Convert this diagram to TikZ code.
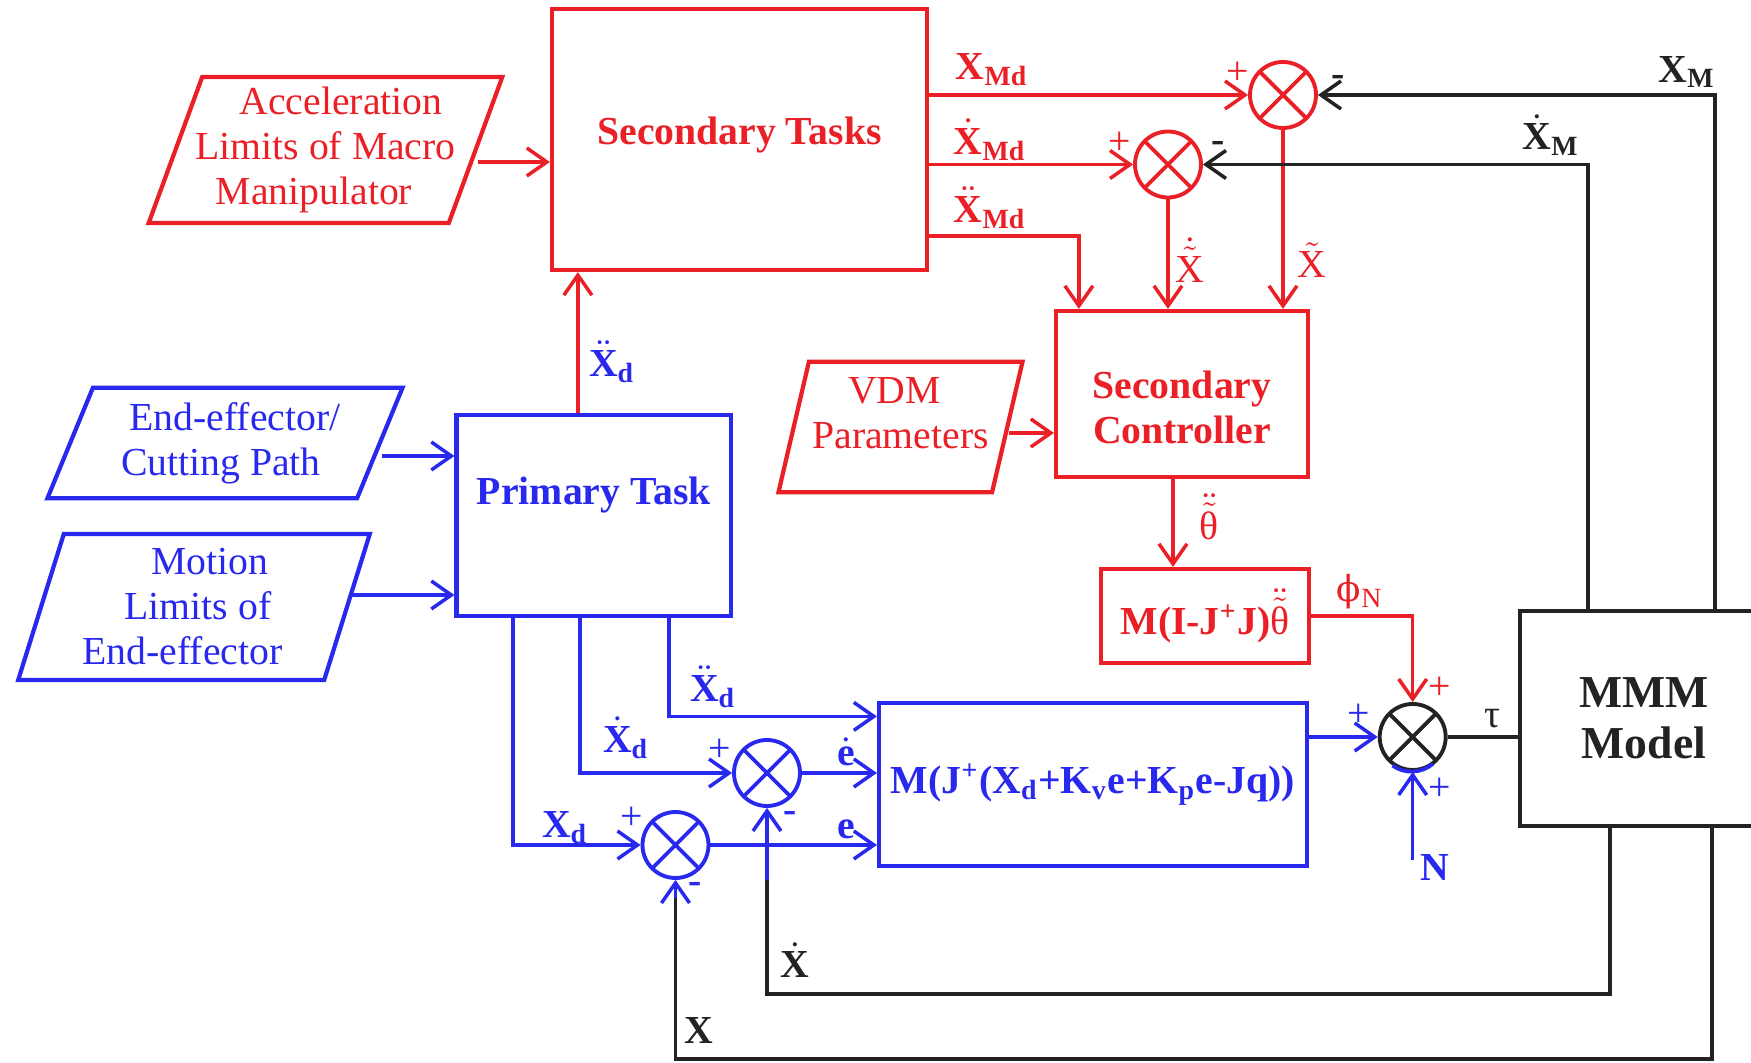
\documentclass[tikz,border=0pt]{standalone}
\usepackage{amsmath}
\usepackage{fontspec}
\setmainfont{Liberation Serif}
\newfontfamily\grkfont[Scale=0.9]{DejaVu Serif}
\usetikzlibrary{arrows.meta, shapes.geometric}

\definecolor{sred}{RGB}{234,32,38}
\definecolor{sblue}{RGB}{40,40,238}
\definecolor{sblack}{RGB}{35,35,35}

\begin{document}
\begin{tikzpicture}[
    font=\fontsize{11.3}{12.8}\selectfont,
    box/.style={rectangle, draw, line width=1.2pt, inner sep=0pt, font=\fontsize{11.3}{12.8}\selectfont\bfseries},
    para/.style={trapezium, trapezium stretches=true, draw, line width=1.2pt, inner sep=0pt, align=center},
    sumj/.style={circle, draw, line width=1.1pt, minimum size=0.66cm, inner sep=0pt,
        path picture={\draw[line width=1.1pt] (path picture bounding box.north west) -- (path picture bounding box.south east)
            (path picture bounding box.north east) -- (path picture bounding box.south west);}},
    arr/.style={-{Straight Barb[length=2mm, width=2.8mm]}, line width=1pt},
    wire/.style={line width=1pt},
    sig/.style={inner sep=0pt},
    sgn/.style={inner sep=0pt}
]
    \useasboundingbox (0,0) rectangle (17.51,-10.63);
    \clip (0,0) rectangle (17.51,-10.63);

    % Secondary task branch
    \node[box, sred, minimum width=3.75cm, minimum height=2.61cm, text height=0.27cm, text depth=0.17cm] (st) at (7.395,-1.395) {Secondary Tasks};
    \node[para, sred, inner xsep=-1mm, trapezium left angle=67.5, trapezium right angle=112.5, minimum width=3.57cm, minimum height=1.46cm] (accel) at (3.255,-1.50)
        {\hspace*{3.1mm}Acceleration\\Limits of Macro\\Manipulator\hspace*{2.3mm}};
    \node[sumj, sred] (sum1) at (12.83,-0.95) {};
    \node[sumj, sred] (sum2) at (11.68,-1.645) {};
    \node[box, sred, align=center, minimum width=2.52cm, minimum height=1.66cm] (sc) at (11.82,-3.94) {\mbox{}\\[0.9mm]Secondary\\Controller};
    \node[para, sred, trapezium left angle=73.5, trapezium right angle=106.5, minimum width=2.45cm, minimum height=1.305cm] (vdm) at (9.005,-4.27)
        {VDM\hspace*{1.2mm}\\Parameters\\[-1.7mm]\mbox{}};
    \node[box, sred, minimum width=2.08cm, minimum height=0.94cm] (mb) at (12.05,-6.16) {M(I-J\textsuperscript{+}J)$\ddot{\tilde{\text{\mdseries θ}}}$};

    % Plant
    \node[sumj, sblack] (sum3) at (14.127,-7.37) {};
    \node[box, sblack, align=center, font=\fontsize{13}{14.5}\selectfont\bfseries, minimum width=2.48cm, minimum height=2.15cm] (mmm) at (16.44,-7.185) {MMM\\Model};

    % Primary task branch
    \node[box, sblue, minimum width=2.745cm, minimum height=2.01cm, text height=0.27cm, text depth=0.49cm] (pt) at (5.9375,-5.155) {Primary Task};
    \node[para, sblue, trapezium left angle=64, trapezium right angle=116, minimum width=3.56cm, minimum height=1.105cm] (ee) at (2.25,-4.43)
        {\hspace*{2mm}End-effector/\\Cutting Path\hspace*{0.8mm}};
    \node[para, sblue, trapezium left angle=71.5, trapezium right angle=108.5, minimum width=3.54cm, minimum height=1.46cm] (ml) at (1.94,-6.07)
        {\hspace*{3.1mm}Motion\\\hspace*{0.8mm}Limits of\\End-effector\hspace*{2.3mm}};
    \node[box, sblue, minimum width=4.28cm, minimum height=1.63cm] (cb) at (10.93,-7.845)
        {M(J\textsuperscript{+}(X\textsubscript{d}+K\textsubscript{v}e+K\textsubscript{p}e-Jq))};
    \node[sumj, sblue] (sum4) at (7.67,-7.73) {};
    \node[sumj, sblue] (sum5) at (6.755,-8.45) {};
    \draw[sblue, line width=1.1pt] (sum3.-125) arc[start angle=-125, end angle=-50, radius=0.33cm];

    % Helper points
    \coordinate (acco) at ([yshift=-0.12cm]accel.east);
    \coordinate (vdmo) at ([yshift=-0.06cm]vdm.east);
    \coordinate (eeo) at ([yshift=-0.13cm]ee.east);
    \coordinate (mlo) at ([yshift=0.12cm]ml.east);
    \coordinate (sco) at ([xshift=-0.09cm]sc.south);
    \coordinate (ptt) at ([xshift=1.235cm]pt.north west);
    \coordinate (nin) at (14.127,-8.60);
    \coordinate (xdb) at (7.67,-9.94);
    \coordinate (xdm) at (7.67,-8.80);
    \coordinate (xb) at (6.755,-10.59);
    \coordinate (xm) at (6.755,-8.98);

    % Red connectors
    \draw[arr, sred] (acco) -- (acco -| st.west);
    \draw[arr, sred] (st.east |- sum1) -- (sum1);
    \draw[arr, sred] (st.east |- sum2) -- (sum2);
    \draw[arr, sred] ([yshift=-2.29cm]st.north east) -| ([xshift=0.25cm]sc.north west);
    \draw[arr, sred] (sum2) -- (sum2 |- sc.north);
    \draw[arr, sred] (sum1) -- (sum1 |- sc.north);
    \draw[arr, sred] (vdmo) -- (vdmo -| sc.west);
    \draw[arr, sred] (sco) -- (sco |- mb.north);
    \draw[arr, sred] (mb.east) -| (sum3);
    \draw[arr, sred] (ptt) -- (ptt |- st.south);

    % Blue connectors
    \draw[arr, sblue] (eeo) -- (eeo -| pt.west);
    \draw[arr, sblue] (mlo) -- (mlo -| pt.west);
    \draw[arr, sblue] ([xshift=0.585cm]pt.south west) |- (sum5);
    \draw[arr, sblue] ([xshift=1.255cm]pt.south west) |- (sum4);
    \draw[arr, sblue] ([xshift=2.145cm]pt.south west) |- ([yshift=-0.155cm]cb.north west);
    \draw[arr, sblue] (sum4) -- (sum4 -| cb.west);
    \draw[arr, sblue] (sum5) -- (sum5 -| cb.west);
    \draw[arr, sblue] (cb.east |- sum3) -- (sum3);
    \draw[arr, sblue] (nin) -- (sum3);

    % Feedback
    \draw[wire, sblack] (sum3) -- (sum3 -| mmm.west);
    \draw[arr, sblack] ([xshift=1.97cm]mmm.north west) |- (sum1);
    \draw[arr, sblack] ([xshift=0.70cm]mmm.north west) |- (sum2);
    \draw[wire, sblack] ([xshift=0.92cm]mmm.south west) |- (xdb) -- (xdm);
    \draw[arr, sblue] (xdm) -- (sum4);
    \draw[wire, sblack] ([xshift=1.94cm]mmm.south west) |- (xb) -- (xm);
    \draw[arr, sblue] (xm) -- (sum5);

    % Signal labels
    \node[sig, sred] (lxmd) at (9.92,-0.70) {$\textbf{X}_{\textbf{Md}}$};
    \node[sig, sred] (lvxmd) at (9.90,-1.40) {$\dot{\textbf{X}}_{\textbf{Md}}$};
    \node[sig, sred] (laxmd) at (9.90,-2.08) {$\ddot{\textbf{X}}_{\textbf{Md}}$};
    \node[sig, sblack] (lxm) at (16.87,-0.72) {$\textbf{X}_{\textbf{M}}$};
    \node[sig, sblack] (lvxm) at (15.51,-1.35) {$\dot{\textbf{X}}_{\textbf{M}}$};
    \node[sig, sred] (lvxt) at (11.90,-2.60) {$\dot{\tilde{\text{X}}}$};
    \node[sig, sred] (lxt) at (13.12,-2.60) {$\tilde{\text{X}}$};
    \node[sig, sred] (lth) at (12.095,-5.17) {$\ddot{\tilde{\text{θ}}}$};
    \node[sig, sred] (lphi) at (13.60,-5.92) {{\grkfont ϕ}\textsubscript{N}};
    \node[sig, sblack] (ltau) at (14.92,-7.19) {τ};
    \node[sig, sblue] (ln) at (14.35,-8.68) {\textbf{N}};
    \node[sig, sblue] (laxd) at (6.12,-3.62) {$\ddot{\textbf{X}}_{\textbf{d}}$};
    \node[sig, sblue] (laxd2) at (7.13,-6.87) {$\ddot{\textbf{X}}_{\textbf{d}}$};
    \node[sig, sblue] (lvxd) at (6.26,-7.38) {$\dot{\textbf{X}}_{\textbf{d}}$};
    \node[sig, sblue] (lxd) at (5.65,-8.28) {$\textbf{X}_{\textbf{d}}$};
    \node[sig, sblue] (lve) at (8.46,-7.52) {$\dot{\textbf{e}}$};
    \node[sig, sblue] (le) at (8.46,-8.29) {\textbf{e}};
    \node[sig, sblack] (lvx) at (7.95,-9.60) {$\dot{\textbf{X}}$};
    \node[sig, sblack] (lx) at (6.99,-10.31) {\textbf{X}};

    % Signs
    \node[sgn, sred] (p1) at (12.38,-0.73) {+};
    \node[sgn, sblack] (m1) at (13.38,-0.81) {\textbf{-}};
    \node[sgn, sred] (p2) at (11.20,-1.43) {+};
    \node[sgn, sblack] (m2) at (12.18,-1.47) {\textbf{-}};
    \node[sgn, sred] (p3a) at (14.40,-6.88) {+};
    \node[sgn, sblue] (p3b) at (13.59,-7.15) {+};
    \node[sgn, sblue] (p3c) at (14.40,-7.89) {+};
    \node[sgn, sblue] (p4) at (7.20,-7.50) {+};
    \node[sgn, sblue] (m4) at (7.90,-8.17) {\textbf{-}};
    \node[sgn, sblue] (p5) at (6.32,-8.18) {+};
    \node[sgn, sblue] (m5) at (6.95,-8.88) {\textbf{-}};
\end{tikzpicture}
\end{document}
